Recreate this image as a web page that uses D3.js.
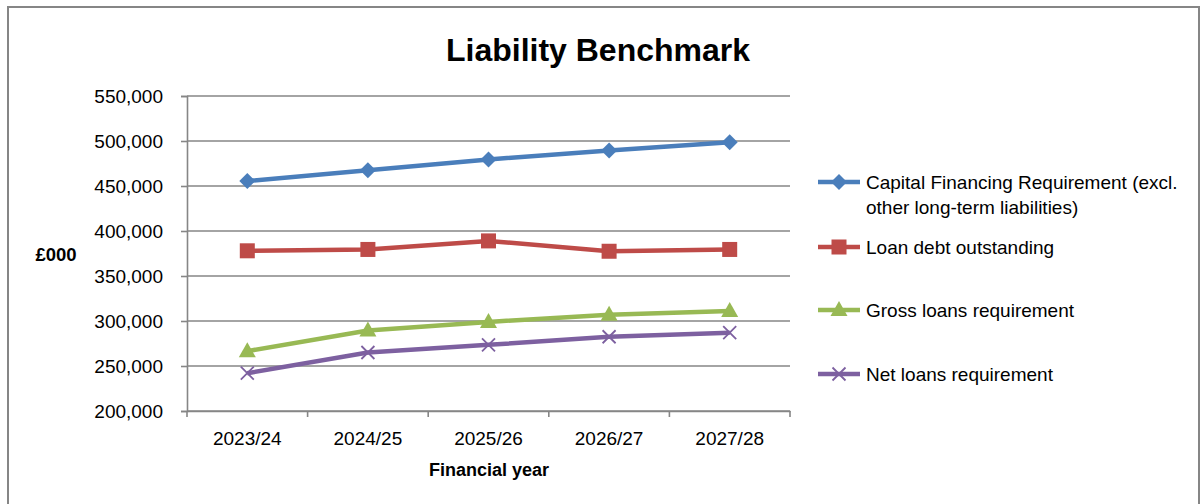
<!DOCTYPE html>
<html><head><meta charset="utf-8">
<script src="https://cdn.jsdelivr.net/npm/d3@7"></script>
<style>body{margin:0;background:#fff}svg{display:block}</style>
</head><body>
<svg id="c" width="1201" height="504"></svg>
<script>
const categories = ["2023/24","2024/25","2025/26","2026/27","2027/28"];
const seriesNames = ["Capital Financing Requirement (excl. other long-term liabilities)","Loan debt outstanding","Gross loans requirement","Net loans requirement"];
const cfr = [455500, 467500, 479500, 489500, 498500];
const loanDebt = [378000, 379500, 389000, 377500, 379500];
const grossLoans = [266500, 289500, 299000, 307000, 311000];
const netLoans = [242000, 265000, 273500, 282500, 287000];
const yTicks = [200000,250000,300000,350000,400000,450000,500000,550000];
const colors = ["#4A7EBB","#BE4B48","#98B954","#7D60A0"];
const markers = ["diamond","square","triangle","x"];
const legendLines = [["Capital Financing Requirement (excl.","other long-term liabilities)"],["Loan debt outstanding"],["Gross loans requirement"],["Net loans requirement"]];

const svg = d3.select("#c");
const font = "'Liberation Sans', Arial, sans-serif";
const grid = "#868686";
// border
svg.append("rect").attr("x",8).attr("y",7).attr("width",1191).attr("height",510)
  .attr("fill","#fff").attr("stroke",grid).attr("stroke-width",2);

const L=187,R=790,T=96,B=411;
const x = d3.scaleBand().domain(categories).range([L,R]);
const y = d3.scaleLinear().domain([200000,550000]).range([B,T]);

// gridlines
svg.append("g").selectAll("line").data(yTicks).join("line")
  .attr("x1",L).attr("x2",R).attr("y1",d=>y(d)).attr("y2",d=>y(d))
  .attr("stroke",grid).attr("stroke-width",1.6);

const yAxis = svg.append("g").attr("transform",`translate(${L},0)`)
  .call(d3.axisLeft(y).tickValues(yTicks).tickFormat(d3.format(",")).tickSize(6).tickPadding(18));
const xAxis = svg.append("g").attr("transform",`translate(0,${B})`)
  .call(d3.axisBottom(x).tickSize(0).tickPadding(21));
[yAxis,xAxis].forEach(a=>{
  a.select(".domain").attr("stroke",grid).attr("stroke-width",1.6);
  a.selectAll(".tick line").attr("stroke",grid).attr("stroke-width",1.6);
  a.selectAll("text").attr("font-family",font).attr("font-size",19).attr("fill","#000");
});
// category boundary ticks on x axis
const bounds = categories.map(c=>x(c)).concat([x(categories[categories.length-1])+x.bandwidth()]);
xAxis.append("g").selectAll("line").data(bounds).join("line")
  .attr("x1",d=>d).attr("x2",d=>d).attr("y1",0).attr("y2",6)
  .attr("stroke",grid).attr("stroke-width",1.6);

const cx = c => x(c)+x.bandwidth()/2;
const allSeries = [cfr,loanDebt,grossLoans,netLoans];

function drawMarker(g, type, px, py, color){
  if(type==="diamond"){
    g.append("path").attr("d",`M${px},${py-8}L${px+8},${py}L${px},${py+8}L${px-8},${py}Z`).attr("fill",color);
  } else if(type==="square"){
    g.append("rect").attr("x",px-7.5).attr("y",py-7.5).attr("width",15).attr("height",15).attr("fill",color);
  } else if(type==="triangle"){
    g.append("path").attr("d",`M${px},${py-9}L${px+8.5},${py+6}L${px-8.5},${py+6}Z`).attr("fill",color);
  } else {
    g.append("path").attr("d",`M${px-6.5},${py-6.5}L${px+6.5},${py+6.5}M${px+6.5},${py-6.5}L${px-6.5},${py+6.5}`)
      .attr("stroke",color).attr("stroke-width",1.8).attr("fill","none");
  }
}

const line = d3.line().x((d,i)=>cx(categories[i])).y(d=>y(d));
allSeries.forEach((s,k)=>{
  const g = svg.append("g");
  g.append("path").datum(s).attr("d",line).attr("fill","none")
    .attr("stroke",colors[k]).attr("stroke-width",4.5).attr("stroke-linejoin","round");
  s.forEach((v,i)=>drawMarker(g,markers[k],cx(categories[i]),y(v),colors[k]));
});

// title
svg.append("text").attr("x",598).attr("y",61).attr("text-anchor","middle")
  .attr("font-family",font).attr("font-weight","bold").attr("font-size",32).text("Liability Benchmark");
// axis titles
svg.append("text").attr("x",56).attr("y",261).attr("text-anchor","middle")
  .attr("font-family",font).attr("font-weight","bold").attr("font-size",18.5).text("£000");
svg.append("text").attr("x",489).attr("y",476).attr("text-anchor","middle")
  .attr("font-family",font).attr("font-weight","bold").attr("font-size",18).text("Financial year");

// legend
const legendY = [182,247,310,374];
legendLines.forEach((lines,k)=>{
  const g = svg.append("g");
  const ly = legendY[k];
  g.append("line").attr("x1",818).attr("x2",860).attr("y1",ly).attr("y2",ly)
    .attr("stroke",colors[k]).attr("stroke-width",4.5);
  drawMarker(g,markers[k],839,ly,colors[k]);
  lines.forEach((t,j)=>{
    g.append("text").attr("x",866).attr("y",ly+7+j*25).attr("font-family",font).attr("font-size",19)
      .attr("fill","#000").text(t);
  });
});
</script>
</body></html>
